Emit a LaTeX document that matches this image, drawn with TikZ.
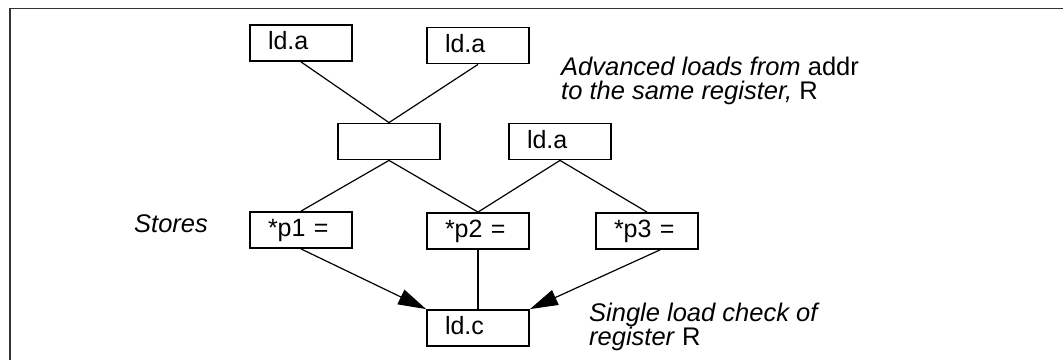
\documentclass[tikz,border=0pt]{standalone}
\usepackage{fontspec}
\setmainfont{Liberation Sans}
\usepackage{tikz}
\usetikzlibrary{arrows.meta}

\begin{document}
\begin{tikzpicture}
 [x=1pt, y=-1pt,
  load node/.style={rectangle, draw, line width=1.8pt, minimum width=102pt, minimum height=36pt,
    inner xsep=18pt, inner ysep=2pt, text width=66pt, align=left, text height=18pt, text depth=5pt,
    font=\fontsize{25}{24}\selectfont},
  note node/.style={anchor=base west, inner sep=0pt, align=left, font=\fontsize{25.5}{24}\selectfont\itshape},
  link/.style={line width=1.2pt},
  check/.style={line width=1.2pt, -{Triangle[length=28pt,width=16pt]}}]

 \useasboundingbox (0,0) rectangle (1063,360);
 \draw[line width=1.6pt, black!80] (10,360) -- (10,8.5) -- (1063,8.5);

 \node[load node] (ldaL) at (301,43) {ld.a};
 \node[load node] (ldaR) at (478,45.5) {ld.a};
 \node[load node] (merge) at (389,141.5) {};
 \node[load node] (ldaM) at (560,141.5) {ld.a};

 \node[load node] (p1) [below of=ldaL, node distance=187pt] {*p1 =};
 \node[load node] (p2) [below of=ldaR, node distance=185.5pt] {*p2 =};
 \node[load node] (p3) at (647,231) {*p3 =};
 \node[load node] (ldc) [below of=p2, node distance=97pt] {ld.c};

 % base anchor of a two-line note sits on its last line
 \node[note node] (adv) at (561,99.5) {Advanced loads from \textup{addr}\\to the same register, \textup{R}};
 \node[note node] (stores) at (134,232) {Stores};
 \node[note node] (single) at (589,345) {Single load check of\\register \textup{R}};

 \draw[link] (ldaL.south) -- (merge.north);
 \draw[link] (ldaR.south) -- (merge.north);
 \draw[link] (merge.south) -- (p1.north);
 \draw[link] (merge.south) -- (p2.north);
 \draw[link] (ldaM.south) -- (p2.north);
 \draw[link] (ldaM.south) -- (p3.north);

 \draw[check] (p1.south) -- (ldc.north west);
 \draw[link] (p2.south) -- (ldc.north);
 \draw[check] ([xshift=13pt]p3.south) -- (ldc.north east);

\end{tikzpicture}
\end{document}
